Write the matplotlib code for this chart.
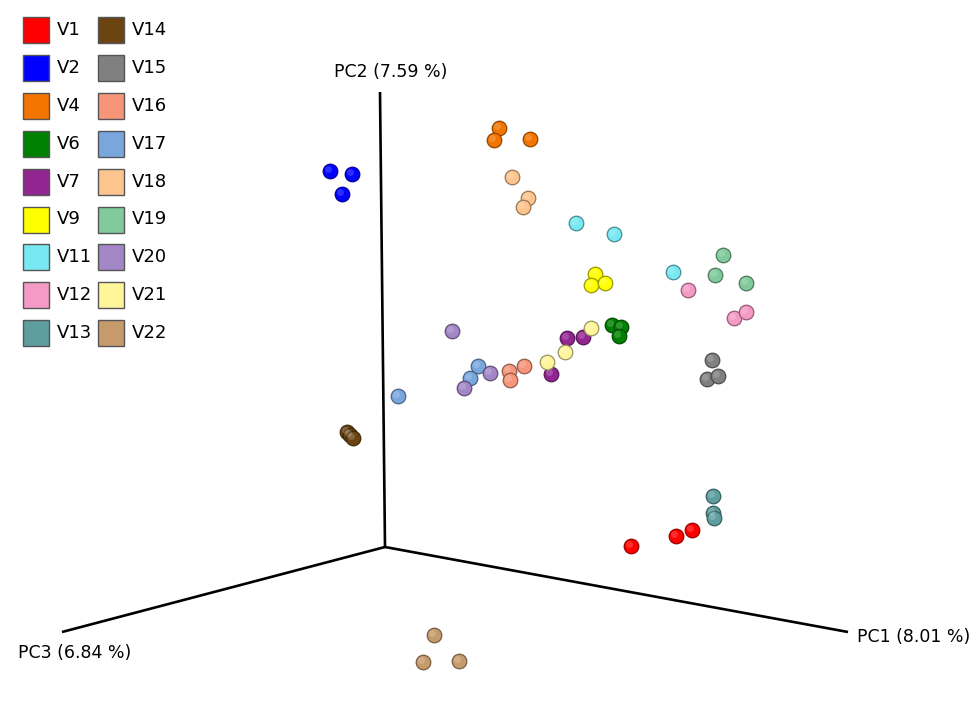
"""
PCoA 3D view (Emperor style) redrawn as a flat projection.

Sample positions are the projected screen coordinates read off the figure,
kept per group so the legend and the scatter come from the same lists.
"""

import matplotlib
matplotlib.use("Agg")
import matplotlib.pyplot as plt
from matplotlib.colors import to_rgb
from matplotlib.patches import Rectangle

W, H = 976, 719

groups = ["V1", "V2", "V4", "V6", "V7", "V9", "V11", "V12", "V13",
          "V14", "V15", "V16", "V17", "V18", "V19", "V20", "V21", "V22"]
colors = ["#ff0000", "#0000ff", "#f47400", "#008000", "#922690", "#ffff00",
          "#78e9f2", "#f49ac4", "#5e9e9f", "#6b4412", "#808080", "#f7957b",
          "#79a7dd", "#fdc48d", "#80ca9c", "#a286c6", "#fff59b", "#c69b6c"]

# projected positions (screen x, screen y) of the three replicates per group
pts_x = {
    "V1": [631, 676, 692], "V2": [330, 352, 342], "V4": [499, 494, 530],
    "V6": [612, 621, 619], "V7": [567, 583, 551], "V9": [595, 591, 605],
    "V11": [576, 614, 673], "V12": [688, 734, 746], "V13": [713, 713, 714],
    "V14": [347, 350, 353], "V15": [712, 707, 718], "V16": [509, 510, 524],
    "V17": [478, 470, 398], "V18": [512, 528, 523], "V19": [723, 715, 746],
    "V20": [452, 490, 464], "V21": [591, 565, 547], "V22": [434, 423, 459],
}
pts_y = {
    "V1": [546, 536, 530], "V2": [171, 174, 194], "V4": [128, 140, 139],
    "V6": [325, 327, 336], "V7": [338, 337, 374], "V9": [274, 285, 283],
    "V11": [223, 234, 272], "V12": [290, 318, 312], "V13": [496, 513, 518],
    "V14": [432, 435, 438], "V15": [360, 379, 376], "V16": [371, 380, 366],
    "V17": [366, 378, 396], "V18": [177, 198, 207], "V19": [255, 275, 283],
    "V20": [331, 373, 388], "V21": [328, 352, 362], "V22": [635, 662, 661],
}

# axis ends in the projected view
origin = (385, 547)
axis_ends = {"PC1": (848, 632), "PC2": (380, 92), "PC3": (62, 632)}
axis_labels = {"PC1": "PC1 (8.01 %)", "PC2": "PC2 (7.59 %)", "PC3": "PC3 (6.84 %)"}
label_pos = {"PC1": (857, 637, "left"), "PC2": (391, 72, "center"),
             "PC3": (18, 653, "left")}


def darker(c, f=0.6):
    r, g, b = to_rgb(c)
    return (r * f, g * f, b * f)


fig = plt.figure(figsize=(W / 100, H / 100), dpi=100)
ax = fig.add_axes([0, 0, 1, 1])
ax.set_xlim(0, W)
ax.set_ylim(H, 0)
ax.axis("off")

for key, (ex, ey) in axis_ends.items():
    ax.plot([origin[0], ex], [origin[1], ey], color="black", lw=1.9,
            solid_capstyle="butt", zorder=1)
    tx, ty, ha = label_pos[key]
    ax.text(tx, ty, axis_labels[key], fontsize=12.5, ha=ha, va="center")

for g, c in zip(groups, colors):
    ax.scatter(pts_x[g], pts_y[g], s=110, color=c, edgecolors=darker(c),
               linewidths=0.9, zorder=3)
    # small highlight to hint at the shaded spheres
    ax.scatter([x - 1.5 for x in pts_x[g]], [y - 1.5 for y in pts_y[g]], s=25,
               color="white", alpha=0.18, edgecolors="none", zorder=4)

# legend: two columns of swatches
sq = 26
row_h = 37.9
col_x = [23, 98]
for i, (g, c) in enumerate(zip(groups, colors)):
    col, row = divmod(i, 9)
    cy = 30 + row * row_h
    ax.add_patch(Rectangle((col_x[col], cy - sq / 2), sq, sq, facecolor=c,
                           edgecolor="#555555", lw=1.0, zorder=5))
    ax.text(col_x[col] + sq + 8, cy, g, fontsize=13, ha="left", va="center")

fig.savefig("out.png", dpi=100)
